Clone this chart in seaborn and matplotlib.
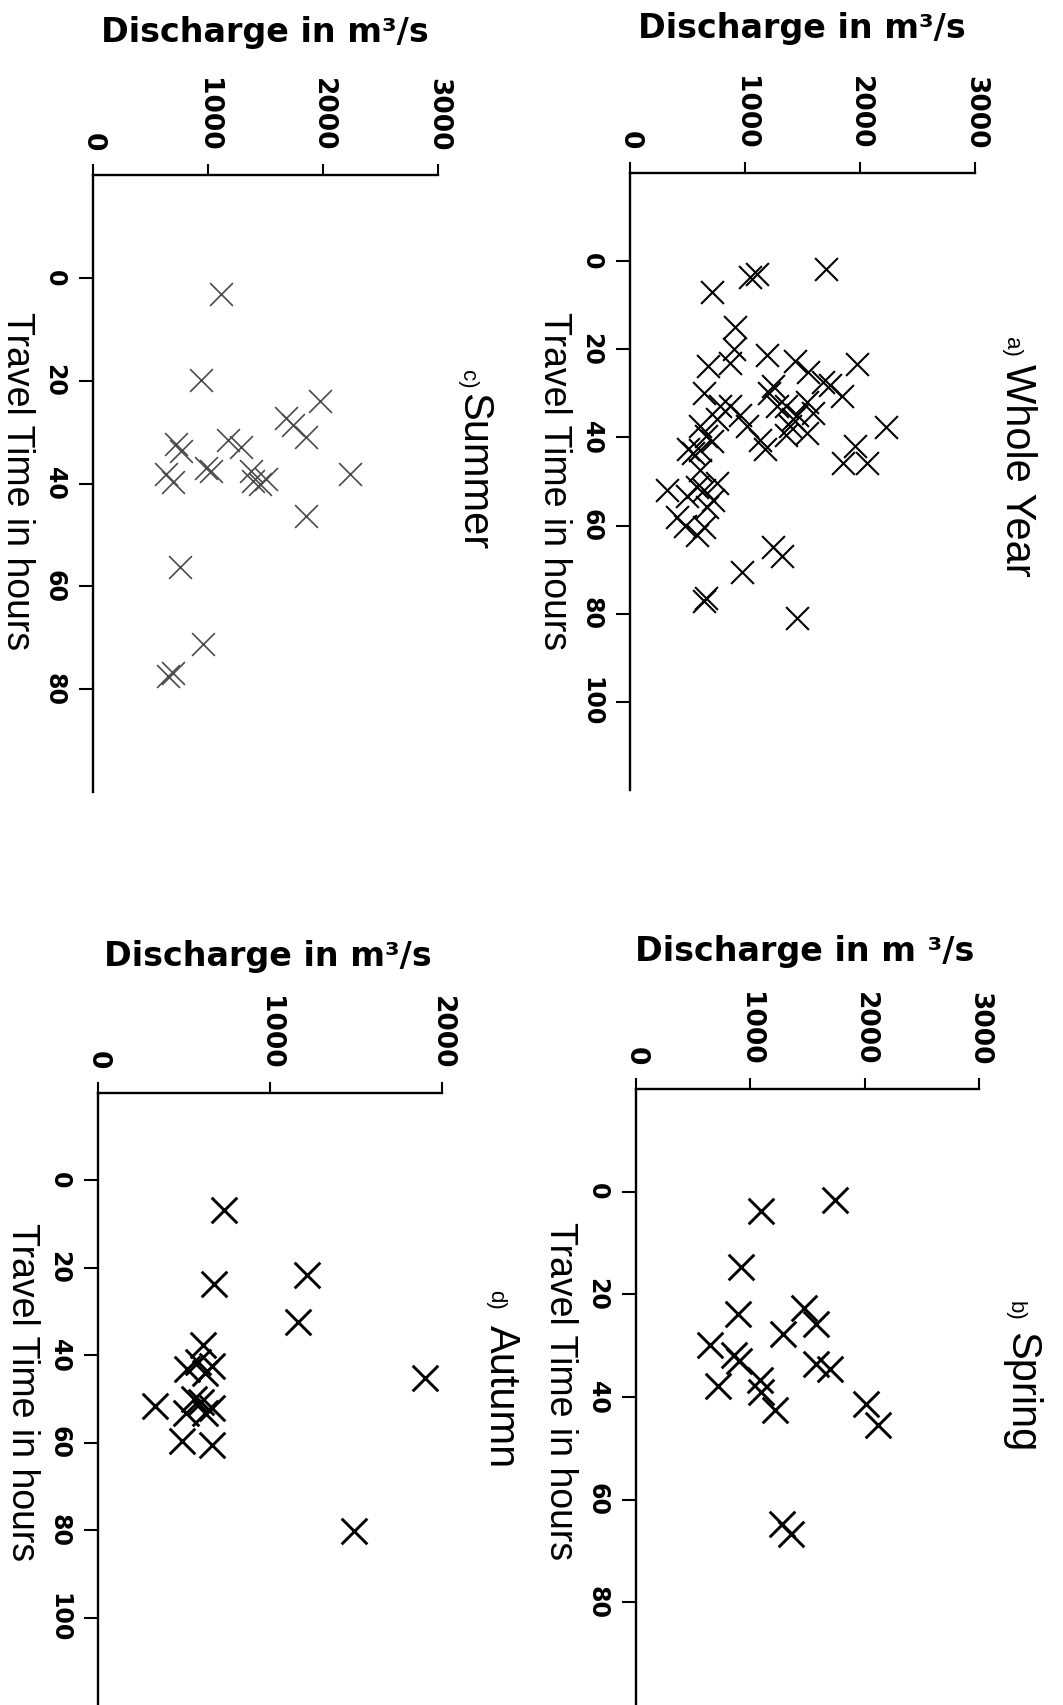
import matplotlib
matplotlib.use("Agg")
import matplotlib.pyplot as plt
import seaborn as sns

# ---------------- data: discharge (m^3/s) vs travel time (hours) ----------------
whole_year_discharge = [1700, 1100, 1045, 715, 915, 900, 680, 870, 1190, 1435, 1970, 1550,
                        1680, 1840, 640, 785, 870, 955, 1205, 1245, 1360, 1450, 1595, 1015,
                        1130, 1390, 1535, 1360, 610, 665, 550, 610, 2230, 1955, 1855, 2060,
                        320, 580, 640, 725, 495, 480, 640, 1245, 1320, 970, 640, 660, 1455,
                        1275, 1420, 1175, 755, 710, 1535, 610, 505, 1740, 755, 667, 405, 580]
whole_year_time = [1.8, 3.0, 3.6, 7.0, 15.0, 20.0, 23.7, 23.0, 21.4, 22.6, 23.4, 25.2,
                   27.5, 30.5, 29.9, 32.9, 32.9, 35.0, 29.9, 28.3, 32.9, 35.0, 34.4, 37.4,
                   40.5, 37.4, 39.0, 39.5, 37.4, 39.7, 43.6, 42.8, 37.6, 42.0, 45.8, 45.8,
                   52.0, 51.2, 52.0, 54.2, 53.4, 60.0, 60.3, 64.9, 66.8, 70.6, 77.1, 76.5, 80.9,
                   32.8, 35.9, 42.7, 35.9, 40.8, 32.0, 47.3, 42.7, 28.2, 50.4, 55.7, 58.0, 62.2]

spring_discharge = [1740, 1090, 920, 890, 1470, 1575, 1290, 645, 860, 905, 1575, 1695,
                    720, 1085, 1095, 1215, 2015, 2115, 1275, 1360]
spring_time = [1.7, 3.8, 14.7, 23.8, 22.6, 25.7, 27.7, 29.8, 31.8, 32.9, 33.6, 34.6,
               37.8, 36.6, 39.0, 42.5, 41.4, 45.5, 64.7, 66.6]

summer_discharge = [1116, 942, 1977, 1681, 1739, 1855, 725, 768, 986, 696, 1377, 1391,
                    1290, 2232, 1855, 754, 652, 957, 638, 1029, 1507, 1449, 1174, 696]
summer_time = [3.1, 19.8, 23.9, 27.3, 28.7, 31.0, 32.3, 33.6, 36.9, 39.8, 37.5, 39.5,
               32.9, 38.2, 46.4, 56.2, 77.5, 71.3, 38.2, 37.5, 39.1, 40.1, 31.6, 76.9]

autumn_discharge = [730, 675, 1215, 1160, 610, 660, 520, 620, 580, 1900, 330, 600,
                    560, 660, 510, 620, 490, 665, 1490]
autumn_time = [6.8, 23.6, 21.6, 32.4, 37.6, 42.4, 43.2, 44.0, 41.6, 45.2, 51.6, 50.8,
               50.0, 52.0, 53.2, 53.2, 59.6, 60.6, 80.2]

discharge_ticks_3000 = [0, 1000, 2000, 3000]
discharge_ticks_2000 = [0, 1000, 2000]
time_ticks_100 = [0, 20, 40, 60, 80, 100]
time_ticks_80 = [0, 20, 40, 60, 80]

# ---------------- figure ----------------
sns.set_theme(style="white")
plt.rcParams['font.family'] = ['DejaVu Sans']

W, H = 1063, 1705
fig = plt.figure(figsize=(W / 100, H / 100), dpi=100)
fig.patch.set_facecolor("white")

LABEL_FONT = "Liberation Sans"


def px_axes(left, top, right, bottom):
    return fig.add_axes([left / W, 1 - bottom / H, (right - left) / W, (bottom - top) / H])


def ftext(x, y, s, **kw):
    return fig.text(x / W, 1 - y / H, s, **kw)


panels = [
    dict(box=(630, 173, 975, 790), d=whole_year_discharge, t=whole_year_time,
         dmax=3000, tmax=120, dticks=discharge_ticks_3000, tticks=time_ticks_100,
         size=270, lw=1.5, color="black",
         unit="Discharge in m³/s", unit_xy=(802, 38),
         ttl_xy=(554, 481), letter="a)", word="Whole Year", base_x=1006,
         letter_y=337, word_y=364),
    dict(box=(93, 175, 438, 792), d=summer_discharge, t=summer_time,
         dmax=3000, tmax=100, dticks=discharge_ticks_3000, tticks=time_ticks_80,
         size=270, lw=1.2, color="#4a4a4a",
         unit="Discharge in m³/s", unit_xy=(265, 42),
         ttl_xy=(17, 481), letter="c)", word="Summer", base_x=462,
         letter_y=370, word_y=393),
    dict(box=(636, 1089, 979, 1705), d=spring_discharge, t=spring_time,
         dmax=3000, tmax=100, dticks=discharge_ticks_3000, tticks=time_ticks_80,
         size=340, lw=2.1, color="black",
         unit="Discharge in m ³/s", unit_xy=(805, 961),
         ttl_xy=(560, 1391), letter="b)", word="Spring", base_x=1010,
         letter_y=1301, word_y=1332),
    dict(box=(98, 1093, 442, 1705), d=autumn_discharge, t=autumn_time,
         dmax=2000, tmax=120, dticks=discharge_ticks_2000, tticks=time_ticks_100,
         size=340, lw=2.1, color="black",
         unit="Discharge in m³/s", unit_xy=(268, 966),
         ttl_xy=(22, 1392), letter="d)", word="Autumn", base_x=490,
         letter_y=1290, word_y=1325),
]

for p in panels:
    ax = px_axes(*p["box"])
    sns.scatterplot(x=p["d"], y=p["t"], ax=ax, marker="x", s=p["size"],
                    color=p["color"], linewidth=p["lw"], legend=False, zorder=3)
    ax.set_xlim(0, p["dmax"])
    ax.set_ylim(p["tmax"], -20)
    ax.set_facecolor("white")
    ax.grid(False)
    ax.set_xlabel("")
    ax.set_ylabel("")

    for side in ("right", "bottom"):
        ax.spines[side].set_visible(False)
    for side in ("left", "top"):
        ax.spines[side].set_color("black")
        ax.spines[side].set_linewidth(1.7)

    ax.xaxis.tick_top()
    ax.set_xticks(p["dticks"])
    ax.set_xticklabels([str(v) for v in p["dticks"]])
    ax.set_yticks(p["tticks"])
    ax.set_yticklabels([str(v) for v in p["tticks"]])
    ax.tick_params(axis="x", which="major", direction="out", length=8, width=1.5,
                   color="black", pad=9, labelsize=19, labelrotation=-90,
                   top=True, bottom=False, labeltop=True, labelbottom=False)
    ax.tick_params(axis="y", which="major", direction="out", length=10, width=1.5,
                   color="black", pad=9, labelsize=17, labelrotation=-90,
                   left=True, right=False)
    for lbl in ax.get_xticklabels():
        lbl.set_fontweight("bold")
        lbl.set_color("black")
    for lbl in ax.get_yticklabels():
        lbl.set_fontweight("bold")
        lbl.set_va("center")
        lbl.set_color("black")

    # axis caption above the discharge axis
    ftext(*p["unit_xy"], p["unit"], ha="center", va="baseline",
          fontsize=24, fontweight="bold", color="black")

    # travel-time caption beside the vertical axis
    ftext(*p["ttl_xy"], "Travel Time in hours", rotation=-90, ha="center",
          va="center", fontsize=27, family=LABEL_FONT, color="black")

    # panel title, reading downwards
    ftext(p["base_x"], p["letter_y"], p["letter"], rotation=-90,
          rotation_mode="anchor", ha="left", va="baseline", fontsize=16,
          family=LABEL_FONT, color="black")
    ftext(p["base_x"], p["word_y"], p["word"], rotation=-90,
          rotation_mode="anchor", ha="left", va="baseline", fontsize=30,
          family=LABEL_FONT, color="black")

fig.savefig("out.png", dpi=100, facecolor="white")
